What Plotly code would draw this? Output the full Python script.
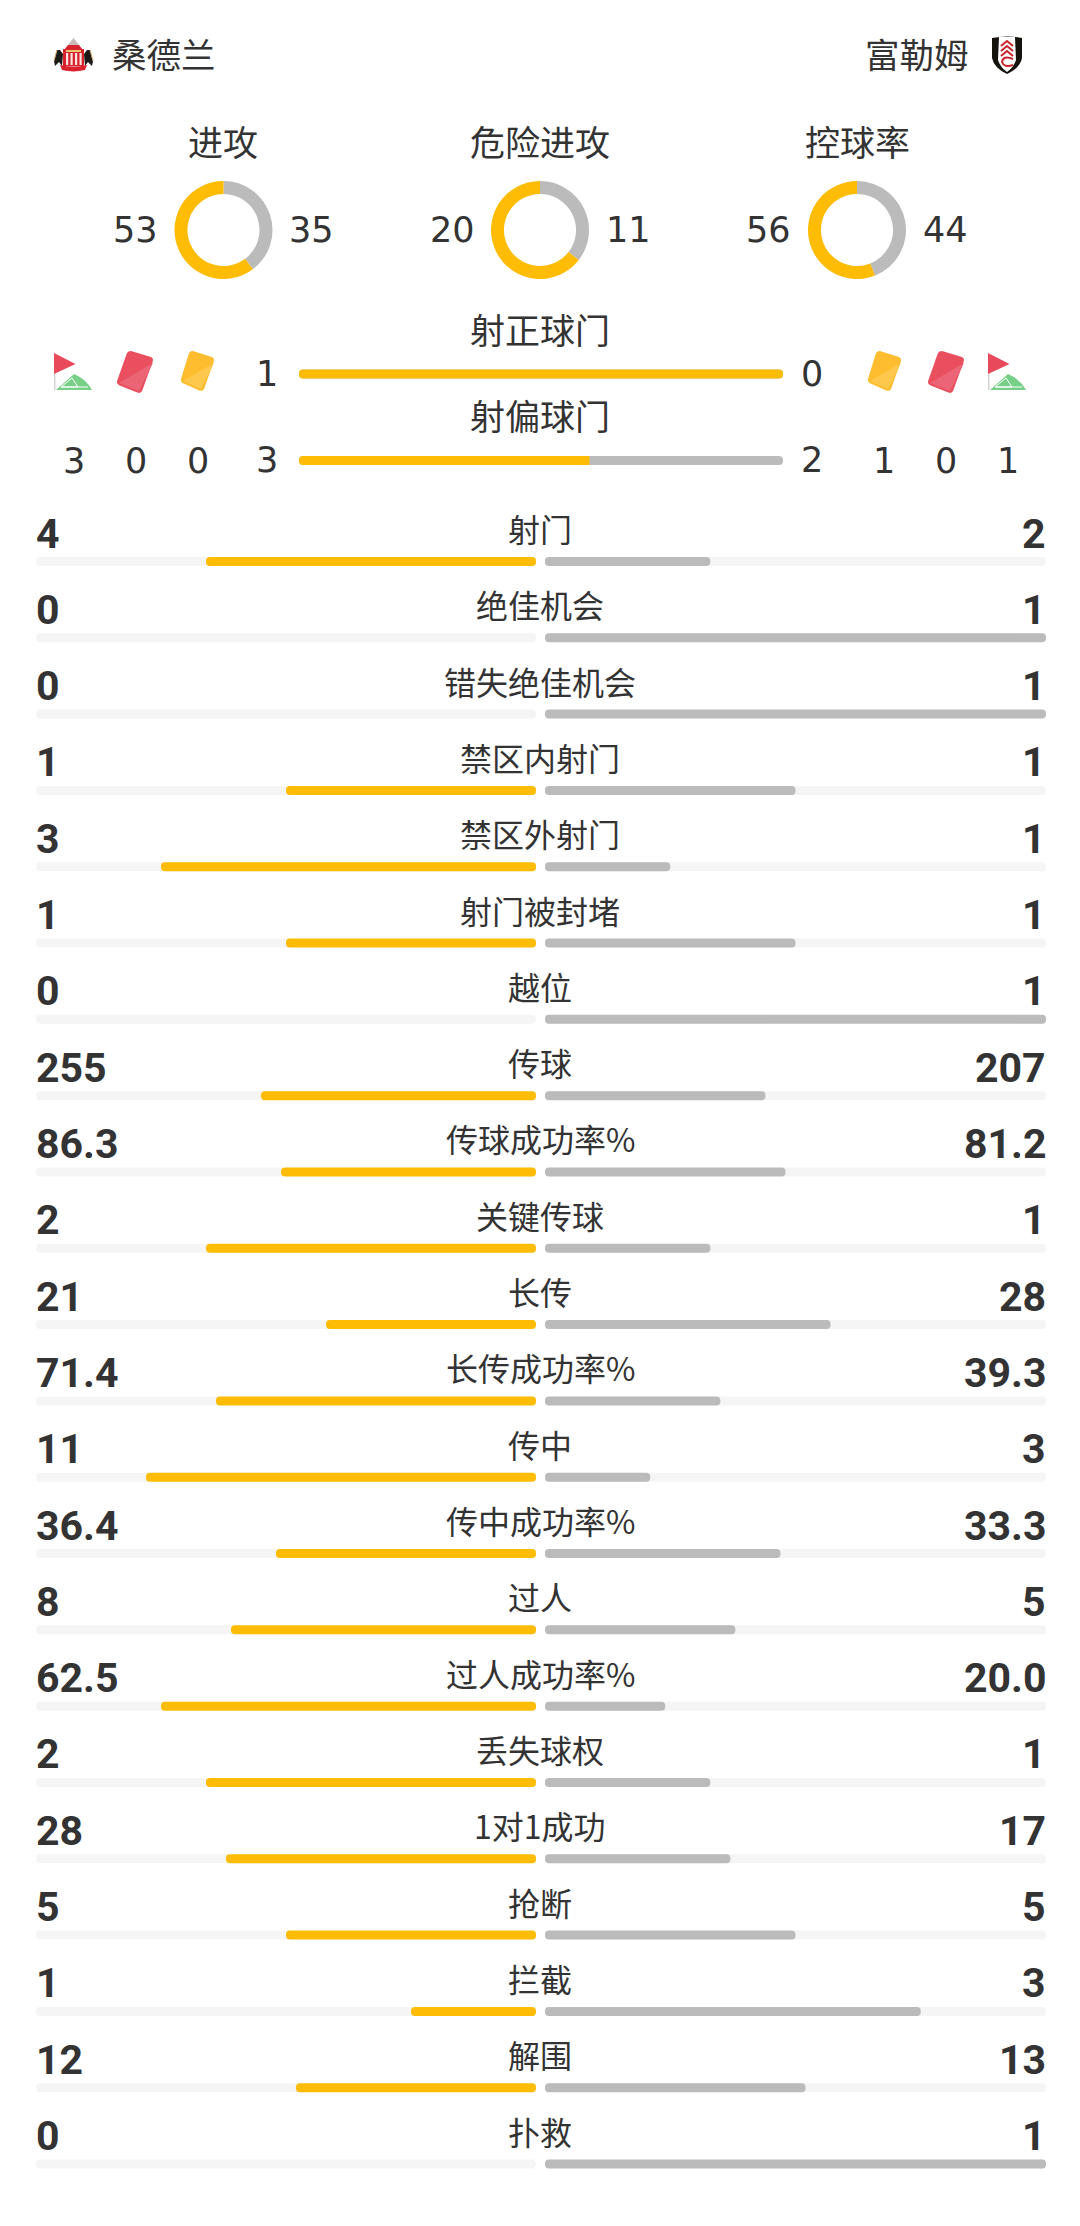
"""Match stats card (Sunderland vs Fulham)."""
import plotly.graph_objects as go

W, H = 1080, 2226

home_team = '桑德兰'
away_team = '富勒姆'

# rings
ring_labels = ['进攻', '危险进攻', '控球率']
ring_home = [53, 20, 56]
ring_away = [35, 11, 44]

# two full-width shot bars
shot_labels = ['射正球门', '射偏球门']
shot_home = [1, 3]
shot_away = [0, 2]

# corners, red cards, yellow cards under the icons
home_icons = [3, 0, 0]
away_icons = [1, 0, 1]

# rows
row_labels = ['射门', '绝佳机会', '错失绝佳机会', '禁区内射门', '禁区外射门', '射门被封堵', '越位',
              '传球', '传球成功率%', '关键传球', '长传', '长传成功率%', '传中', '传中成功率%',
              '过人', '过人成功率%', '丢失球权', '1对1成功', '抢断', '拦截', '解围', '扑救']
row_home = ['4', '0', '0', '1', '3', '1', '0', '255', '86.3', '2', '21', '71.4', '11', '36.4',
            '8', '62.5', '2', '28', '5', '1', '12', '0']
row_away = ['2', '1', '1', '1', '1', '1', '1', '207', '81.2', '1', '28', '39.3', '3', '33.3',
            '5', '20.0', '1', '17', '5', '3', '13', '1']

YELLOW = '#FFBC05'
GRAY = '#BBBBBB'
TRACK = '#F5F5F5'
TEXT = '#333333'
LATIN = 'DejaVu Sans, Noto Sans CJK SC'
CJK = 'Noto Sans CJK SC'
NUM = 'Roboto'


def px(x, y):
    return f'{x / W:.5f},{1 - y / H:.5f}'


def path(pts, close=True):
    s = 'M' + ' L'.join(px(*p) for p in pts)
    return s + (' Z' if close else '')


def shape(d, color, width=0, line=None):
    return dict(type='path', xref='paper', yref='paper', path=d, fillcolor=color,
                line=dict(color=line or color, width=width), layer='above')


def stroke(pts, color, width):
    d = 'M' + ' L'.join(px(*p) for p in pts)
    return dict(type='path', xref='paper', yref='paper', path=d,
                line=dict(color=color, width=width), layer='above')


def rounded(c, r=4):
    # rounded polygon through corner points
    out = ''
    n = len(c)
    for i in range(n):
        p0, p1, p2 = c[i - 1], c[i], c[(i + 1) % n]
        d0 = ((p0[0] - p1[0]) ** 2 + (p0[1] - p1[1]) ** 2) ** 0.5
        d2 = ((p2[0] - p1[0]) ** 2 + (p2[1] - p1[1]) ** 2) ** 0.5
        a = (p1[0] + (p0[0] - p1[0]) * r / d0, p1[1] + (p0[1] - p1[1]) * r / d0)
        b = (p1[0] + (p2[0] - p1[0]) * r / d2, p1[1] + (p2[1] - p1[1]) * r / d2)
        out += ('M' if i == 0 else ' L') + px(*a) + ' Q' + px(*p1) + ' ' + px(*b)
    return out + ' Z'


def note(x, y, text, size, font=LATIN, anchor='center', bold=False):
    return dict(x=x / W, y=1 - y / H, xref='paper', yref='paper', text=text, showarrow=False,
                xanchor=anchor, yanchor='middle', borderpad=0,
                font=dict(family=font, size=size, color=TEXT,
                          weight='bold' if bold else 'normal'))


fig = go.Figure()

# rows: the card cuts each side's share down to a whole percent
home_f = [float(v) for v in row_home]
away_f = [float(v) for v in row_away]
left_share = [int(100 * h / (h + a)) / 100 for h, a in zip(home_f, away_f)]
right_share = [int(100 * a / (h + a)) / 100 for h, a in zip(home_f, away_f)]
ones = [1] * len(row_labels)
zeros = [0] * len(row_labels)
ROW_W = 9 / 76.31


def row_bar(vals, color, xaxis):
    fig.add_trace(go.Bar(y=row_labels, x=vals, base=zeros, orientation='h', width=ROW_W,
                         marker=dict(color=color, cornerradius=4, line_width=0),
                         xaxis=xaxis, yaxis='y', showlegend=False, hoverinfo='skip'))


row_bar(ones, TRACK, 'x')
row_bar(ones, TRACK, 'x2')
row_bar(left_share, YELLOW, 'x')
row_bar(right_share, GRAY, 'x2')

# shot bars
shot_share = [h / (h + a) for h, a in zip(shot_home, shot_away)]
SHOT_W = 9 / 86.4
fig.add_trace(go.Bar(y=shot_labels, x=[1, 1], base=[0, 0], orientation='h', width=SHOT_W,
                     marker=dict(color=GRAY, cornerradius=4.5, line_width=0),
                     xaxis='x3', yaxis='y2', showlegend=False, hoverinfo='skip'))
fig.add_trace(go.Bar(y=shot_labels, x=shot_share, base=[0, 0], orientation='h', width=SHOT_W,
                     marker=dict(color=YELLOW, cornerradius=4.5, line_width=0),
                     xaxis='x3', yaxis='y2', showlegend=False, hoverinfo='skip'))
# the yellow end is square where it meets the gray
split = [(lab, s) for lab, s in zip(shot_labels, shot_share) if s < 1]
fig.add_trace(go.Bar(y=[p[0] for p in split], x=[0.012] * len(split),
                     base=[p[1] - 0.012 for p in split], orientation='h', width=SHOT_W,
                     marker=dict(color=YELLOW, line_width=0),
                     xaxis='x3', yaxis='y2', showlegend=False, hoverinfo='skip'))

# rings
ring_x = [223.5, 540, 857]
for cx, h, a in zip(ring_x, ring_home, ring_away):
    fig.add_trace(go.Pie(values=[a, h], marker=dict(colors=[GRAY, YELLOW], line_width=0),
                         hole=0.735, sort=False, direction='clockwise', rotation=0,
                         textinfo='none', hoverinfo='skip', showlegend=False,
                         domain=dict(x=[(cx - 49) / W, (cx + 49) / W],
                                     y=[1 - 279 / H, 1 - 181 / H])))

ann = [note(164, 53, home_team, 34.5, CJK), note(917, 53, away_team, 34.5, CJK)]

ring_hx = [135, 452, 768.5]
ring_ax = [312, 628, 945]
for i, lab in enumerate(ring_labels):
    ann.append(note(ring_x[i], 141, lab, 35, CJK))
    ann.append(note(ring_hx[i], 230, str(ring_home[i]), 35))
    ann.append(note(ring_ax[i], 230, str(ring_away[i]), 35))

for i, lab in enumerate(shot_labels):
    y = 374 + 86.4 * i
    ann.append(note(540, y - 45.5, lab, 35, CJK))
    ann.append(note(267, y, str(shot_home[i]), 35))
    ann.append(note(812, y, str(shot_away[i]), 35))

for x, v in zip([73.5, 135.5, 197.5], home_icons):
    ann.append(note(x, 460.5, str(v), 35))
for x, v in zip([884, 945.5, 1008], away_icons):
    ann.append(note(x, 460.5, str(v), 35))

for i, lab in enumerate(row_labels):
    y = 561.5 + 76.31 * i
    ann.append(note(540, y - 33.5, lab, 32, CJK))
    ann.append(note(34.5, y - 28, row_home[i], 41, NUM, 'left', True))
    ann.append(note(1046.5, y - 28, row_away[i], 41, NUM, 'right', True))

# icons and crests are plain vector shapes
shapes = []


def corner_icon(dx):
    shapes.append(shape(path([(54 + dx, 354), (55.5 + dx, 354), (55.5 + dx, 390), (54 + dx, 390)]), '#D5D5D5'))
    shapes.append(shape(path([(54 + dx, 353), (75.5 + dx, 364), (54 + dx, 374)]), '#E84A5C'))
    d = 'M' + px(56 + dx, 390) + ' L' + px(74 + dx, 374) + ' Q' + px(86 + dx, 379) + ' ' + px(92 + dx, 390) + ' Z'
    shapes.append(shape(d, '#78D088'))
    shapes.append(stroke([(61 + dx, 387), (72 + dx, 378), (78 + dx, 387), (61 + dx, 387), (88 + dx, 387)], '#FFFFFF', 1))


def card(c, dark, light):
    shapes.append(shape(rounded(c), dark))
    # lighter lower half, cut corner to corner
    tr, br, bl = c[1], c[2], c[3]
    inset = (br[0] - 2, br[1] - 3)
    shapes.append(shape(path([(tr[0] - 1, tr[1] + 5), (inset[0], inset[1]), (bl[0] + 3, bl[1] - 1)]), light))


corner_icon(0)
corner_icon(934)
red_l = [(128, 350), (154, 358), (141, 394), (116, 384)]
yel_l = [(190, 350), (215, 358), (203, 392), (180, 382)]
card(red_l, '#E94F5F', '#EB6577')
card(yel_l, '#FDBD2E', '#FDC84C')
card([(x + 811, y) for x, y in red_l], '#E94F5F', '#EB6577')
card([(x + 687, y) for x, y in yel_l], '#FDBD2E', '#FDC84C')

# Sunderland crest
shapes.append(shape(path([(73.5, 38), (79, 45), (68, 45)]), '#C9B9B9'))
shapes.append(shape(path([(64, 50), (68, 45), (79, 45), (83, 50)]), '#D8232F'))
shapes.append(shape(path([(63, 49), (84, 49), (84, 66), (63, 66)]), '#D8232F'))
for sx in [66, 70.5, 75, 79.5]:
    shapes.append(shape(path([(sx, 53), (sx + 2.2, 53), (sx + 2.2, 65), (sx, 65)]), '#F7E5DF'))
shapes.append(shape(path([(66, 50), (81, 50), (81, 52), (66, 52)]), '#E9C46A'))
shapes.append(shape(path([(54, 61), (57, 50), (60, 50), (63, 54), (62, 66), (59, 62), (55, 66)]), '#1E1A18'))
shapes.append(shape(path([(93, 61), (90, 50), (87, 50), (84, 54), (85, 66), (88, 62), (92, 66)]), '#1E1A18'))
shapes.append(stroke([(54, 61), (57, 50)], '#C9A96A', 1))
shapes.append(stroke([(93, 61), (90, 50)], '#C9A96A', 1))
d = 'M' + px(60, 65) + ' Q' + px(73.5, 68) + ' ' + px(87, 65) + ' L' + px(85, 70) + ' Q' + px(73.5, 73) + ' ' + px(62, 70) + ' Z'
shapes.append(shape(d, '#D8232F'))

# Fulham crest
d = 'M' + px(992, 38) + ' Q' + px(1007, 35) + ' ' + px(1022, 38) + ' L' + px(1022, 58) + ' Q' + px(1020, 68) + ' ' + px(1007, 74) + ' Q' + px(994, 68) + ' ' + px(992, 58) + ' Z'
shapes.append(shape(d, '#16130F'))
d = 'M' + px(999, 37) + ' L' + px(1015, 37) + ' L' + px(1016, 60) + ' Q' + px(1014, 67) + ' ' + px(1007, 72) + ' Q' + px(1000, 67) + ' ' + px(998, 60) + ' Z'
shapes.append(shape(d, '#FFFFFF'))
for cy in [46, 51, 56]:
    shapes.append(stroke([(1001, cy), (1007, cy - 5), (1013, cy)], '#C8252C', 2))
d = 'M' + px(1013, 59) + ' Q' + px(1003, 55) + ' ' + px(1002, 62) + ' Q' + px(1004, 68) + ' ' + px(1013, 65)
shapes.append(dict(type='path', xref='paper', yref='paper', path=d,
                   line=dict(color='#C8252C', width=2), layer='above'))

hidden = dict(visible=False, showgrid=False, zeroline=False, fixedrange=True)
fig.update_layout(
    width=W, height=H,
    margin=dict(l=0, r=0, t=0, b=0),
    paper_bgcolor='white', plot_bgcolor='white',
    barmode='overlay', showlegend=False,
    annotations=ann, shapes=shapes,
    xaxis=dict(domain=[36 / W, 536 / W], range=[1, 0], anchor='y', **hidden),
    xaxis2=dict(domain=[545 / W, 1046 / W], range=[0, 1], anchor='y', **hidden),
    xaxis3=dict(domain=[299 / W, 783 / W], range=[0, 1], anchor='y2', **hidden),
    yaxis=dict(domain=[1 - (2164 + 38.155) / H, 1 - (561.5 - 38.155) / H], type='category',
               categoryorder='array', categoryarray=row_labels, range=[21.5, -0.5], **hidden),
    yaxis2=dict(domain=[1 - (460.5 + 43.2) / H, 1 - (374 - 43.2) / H], type='category',
                categoryorder='array', categoryarray=shot_labels, range=[1.5, -0.5], **hidden),
)

fig.write_html("out.html", config={'displayModeBar': False},
               post_script="document.body.style.margin='0';")
